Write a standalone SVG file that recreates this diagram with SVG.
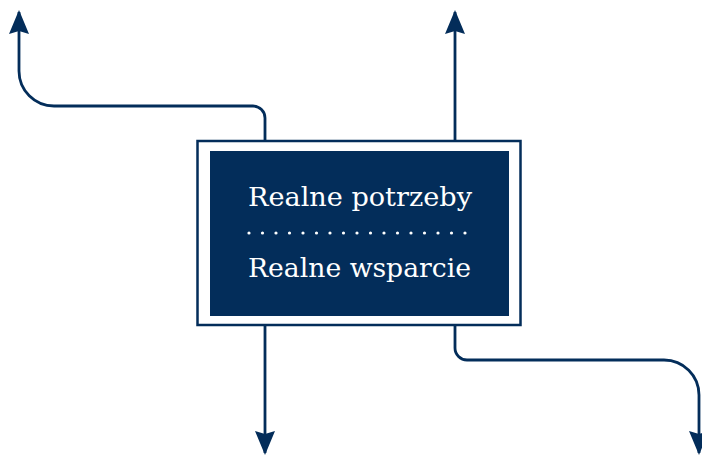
<svg xmlns="http://www.w3.org/2000/svg" width="702" height="456" viewBox="0 0 702 456">
<defs>
<style>
.c{fill:none;stroke:#032d5a;stroke-width:2.8}
.t{font-family:"DejaVu Serif","Liberation Serif",serif;font-size:26.5px;fill:#ffffff}
.d{fill:#ffffff}
</style>
<marker id="ah" viewBox="0 0 24 20" refX="22" refY="10" markerWidth="24" markerHeight="20" markerUnits="userSpaceOnUse" orient="auto">
<path d="M0,0 L24,10 L0,20 L3,10 Z" fill="#032d5a"/>
</marker>
</defs>
<rect width="702" height="456" fill="#ffffff"/>
<g id="connectors">
<path class="c" d="M265,141 V118 A12,12 0 0 0 253,106 H54 A35,35 0 0 1 19,71 V12" marker-end="url(#ah)"/>
<path class="c" d="M455,141 V12" marker-end="url(#ah)"/>
<path class="c" d="M265,326 V453" marker-end="url(#ah)"/>
<path class="c" d="M455,326 V348 A12,12 0 0 0 467,360 H664 A35,35 0 0 1 699,395 V453" marker-end="url(#ah)"/>
</g>
<g id="node">
<rect x="197.5" y="141" width="323" height="184" fill="#ffffff" stroke="#032d5a" stroke-width="2.5"/>
<rect x="210" y="151" width="299" height="165" fill="#032d5a"/>
<text class="t" x="248" y="206" textLength="224" lengthAdjust="spacingAndGlyphs">Realne potrzeby</text>
<g class="d">
<circle cx="249" cy="233" r="1.6"/><circle cx="262.5" cy="233" r="1.6"/><circle cx="276" cy="233" r="1.6"/><circle cx="289.5" cy="233" r="1.6"/><circle cx="303" cy="233" r="1.6"/><circle cx="316.5" cy="233" r="1.6"/><circle cx="330" cy="233" r="1.6"/><circle cx="343.5" cy="233" r="1.6"/><circle cx="357" cy="233" r="1.6"/><circle cx="370.5" cy="233" r="1.6"/><circle cx="384" cy="233" r="1.6"/><circle cx="397.5" cy="233" r="1.6"/><circle cx="411" cy="233" r="1.6"/><circle cx="424.5" cy="233" r="1.6"/><circle cx="438" cy="233" r="1.6"/><circle cx="451.5" cy="233" r="1.6"/><circle cx="465" cy="233" r="1.6"/>
</g>
<text class="t" x="248" y="277" textLength="223" lengthAdjust="spacingAndGlyphs">Realne wsparcie</text>
</g>
</svg>
